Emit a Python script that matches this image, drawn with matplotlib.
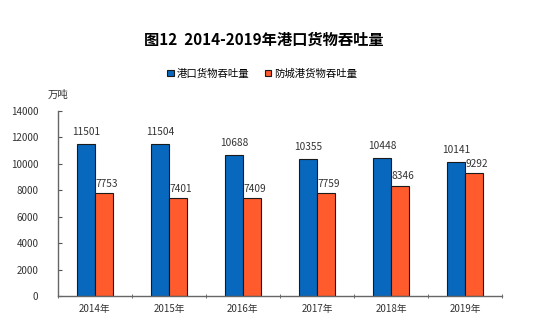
import numpy as np
import matplotlib
matplotlib.use('Agg')
from matplotlib import pyplot as plt

plt.rcParams['font.family'] = ['Noto Sans CJK SC', 'DejaVu Sans']

# Data
years = ['2014年', '2015年', '2016年', '2017年', '2018年', '2019年']
port_total = [11501, 11504, 10688, 10355, 10448, 10141]
fcg_total = [7753, 7401, 7409, 7759, 8346, 9292]
series_names = ['港口货物吞吐量', '防城港货物吞吐量']
yticks = [0, 2000, 4000, 6000, 8000, 10000, 12000, 14000]

fig = plt.figure(figsize=(5.41, 3.26), dpi=100)
ax = fig.add_axes([0.107, 0.092, 0.821, 0.568])

x = np.arange(len(years))
w = 0.243
b1 = ax.bar(x - w / 2, port_total, w, color='#0868BE', edgecolor='#1a1a1a',
            linewidth=0.8, label=series_names[0])
b2 = ax.bar(x + w / 2, fcg_total, w, color='#FF5B2D', edgecolor='#1a1a1a',
            linewidth=0.8, label=series_names[1])

# value labels
for rect, v in zip(b1, port_total):
    ax.annotate(str(v), (rect.get_x() + rect.get_width() / 2, v),
                xytext=(0, 5), textcoords='offset points',
                ha='center', va='bottom', fontsize=7.3, color='#333333')
for rect, v in zip(b2, fcg_total):
    ax.annotate(str(v), (rect.get_x() + rect.get_width() / 2, v),
                xytext=(2, 3), textcoords='offset points',
                ha='center', va='bottom', fontsize=7.3, color='#333333')

ax.set_xlim(-0.5, len(years) - 0.5)
ax.set_ylim(0, 14000)
ax.set_yticks(yticks)
ax.set_yticklabels([str(t) for t in yticks], fontsize=7, color='#333333')
ax.set_xticks(x)
ax.set_xticklabels(years, fontsize=7, color='#333333')
ax.tick_params(axis='x', length=0, pad=6)
ax.tick_params(axis='y', direction='in', length=3, color='#555555', pad=14)
# small separators between categories on the x axis
ax.set_xticks(np.arange(len(years) + 1) - 0.5, minor=True)
ax.tick_params(axis='x', which='minor', direction='inout', length=3, color='#555555')

for s in ['top', 'right']:
    ax.spines[s].set_visible(False)
for s in ['left', 'bottom']:
    ax.spines[s].set_color('#666666')
    ax.spines[s].set_linewidth(1.0)

ax.text(0.0, 1.06, '万吨', transform=ax.transAxes, fontsize=7.5,
        color='#333333', ha='center', va='bottom')

fig.text(0.487, 0.877, '图12  2014-2019年港口货物吞吐量', ha='center', va='center',
         fontsize=11, fontweight='bold')
fig.legend(handles=[b1, b2], loc='center', bbox_to_anchor=(0.485, 0.775), ncol=2,
           frameon=False, fontsize=7.5, handlelength=0.6, handleheight=0.6,
           handletextpad=0.3, columnspacing=1.5)

fig.savefig('out.png', dpi=100)
